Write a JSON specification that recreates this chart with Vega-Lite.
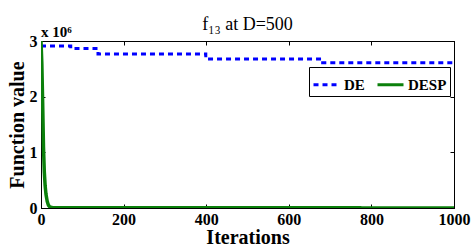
{
  "$schema": "https://vega.github.io/schema/vega-lite/v6.json",
  "width": 413,
  "height": 167,
  "autosize": {"type": "none"},
  "padding": {"left": 41, "top": 41, "right": 21, "bottom": 40},
  "background": "white",
  "title": {"text": "f₁₃ at D=500", "font": "Times New Roman", "fontSize": 18, "fontWeight": "normal", "color": "black", "anchor": "middle", "offset": -9},
  "config": {
    "font": "Times New Roman",
    "view": {"stroke": "black", "strokeWidth": 1},
    "axis": {
      "grid": false,
      "domainColor": "black",
      "tickColor": "black",
      "tickSize": -4,
      "labelFlush": false,
      "labelOverlap": false,
      "labelFont": "Times New Roman",
      "labelFontWeight": "bold",
      "labelFontSize": 16,
      "labelColor": "black",
      "titleFont": "Times New Roman",
      "titleFontWeight": "bold",
      "titleFontSize": 20,
      "titleColor": "black"
    },
    "legend": {
      "orient": "none",
      "legendX": 268,
      "legendY": 26,
      "direction": "horizontal",
      "strokeColor": "black",
      "fillColor": "white",
      "padding": 3,
      "symbolType": "stroke",
      "symbolSize": 676,
      "symbolStrokeWidth": 3,
      "labelFont": "Times New Roman",
      "labelFontWeight": "bold",
      "labelFontSize": 15,
      "labelColor": "black",
      "columnPadding": 6,
      "labelOffset": 3
    }
  },
  "datasets": {
    "curves": [
      {"series": "DE", "iter": 0, "value": 2910000},
      {"series": "DE", "iter": 72, "value": 2865000},
      {"series": "DE", "iter": 138, "value": 2766000},
      {"series": "DE", "iter": 399, "value": 2677000},
      {"series": "DE", "iter": 682, "value": 2610000},
      {"series": "DE", "iter": 1000, "value": 2610000},
      {"series": "DESP", "iter": 0, "value": 3000000},
      {"series": "DESP", "iter": 2, "value": 2600000},
      {"series": "DESP", "iter": 4, "value": 1900000},
      {"series": "DESP", "iter": 6, "value": 1100000},
      {"series": "DESP", "iter": 8, "value": 650000},
      {"series": "DESP", "iter": 10, "value": 400000},
      {"series": "DESP", "iter": 12, "value": 250000},
      {"series": "DESP", "iter": 15, "value": 120000},
      {"series": "DESP", "iter": 18, "value": 50000},
      {"series": "DESP", "iter": 22, "value": 15000},
      {"series": "DESP", "iter": 30, "value": 5000},
      {"series": "DESP", "iter": 100, "value": 3000},
      {"series": "DESP", "iter": 1000, "value": 2000}
    ],
    "note": [{"label": "x 10⁶", "iter": 0, "value": 3000000}]
  },
  "resolve": {"axis": {"x": "independent", "y": "independent"}},
  "layer": [
    {
      "data": {"name": "curves"},
      "transform": [{"filter": "datum.series === 'DE'"}],
      "mark": {"type": "line", "interpolate": "step-after", "strokeWidth": 3, "clip": true},
      "encoding": {
        "x": {"field": "iter", "type": "quantitative", "scale": {"domain": [0, 1000], "nice": false},
          "axis": {"orient": "bottom", "values": [0, 200, 400, 600, 800, 1000], "format": "d", "title": "Iterations", "labelPadding": 7, "titlePadding": 0, "labelFlush": false}},
        "y": {"field": "value", "type": "quantitative", "scale": {"domain": [0, 3000000], "nice": false},
          "axis": {"orient": "left", "values": [0, 1000000, 2000000, 3000000], "labelExpr": "datum.value / 1000000", "title": "Function value", "labelPadding": 8, "titlePadding": 2, "labelFlush": false}},
        "color": {"field": "series", "type": "nominal", "scale": {"domain": ["DE", "DESP"], "range": ["#0000ff", "#0b800b"]}, "legend": {"title": null}},
        "strokeDash": {"field": "series", "type": "nominal", "scale": {"domain": ["DE", "DESP"], "range": [[5, 4], [1, 0]]}, "legend": {"title": null}}
      }
    },
    {
      "data": {"name": "curves"},
      "transform": [{"filter": "datum.series === 'DESP'"}],
      "mark": {"type": "line", "interpolate": "linear", "strokeWidth": 3.5, "clip": true},
      "encoding": {
        "x": {"field": "iter", "type": "quantitative",
          "axis": {"orient": "top", "values": [0, 200, 400, 600, 800, 1000], "labels": false, "title": null}},
        "y": {"field": "value", "type": "quantitative",
          "axis": {"orient": "right", "values": [0, 1000000, 2000000, 3000000], "labels": false, "title": null}},
        "color": {"field": "series", "type": "nominal", "legend": {"title": null}},
        "strokeDash": {"field": "series", "type": "nominal", "legend": {"title": null}}
      }
    },
    {
      "data": {"name": "note"},
      "mark": {"type": "text", "align": "left", "baseline": "alphabetic", "dy": -4, "font": "Times New Roman", "fontWeight": "bold", "fontSize": 15, "color": "black"},
      "encoding": {
        "x": {"field": "iter", "type": "quantitative", "axis": null},
        "y": {"field": "value", "type": "quantitative", "axis": null},
        "text": {"field": "label"}
      }
    }
  ]
}
